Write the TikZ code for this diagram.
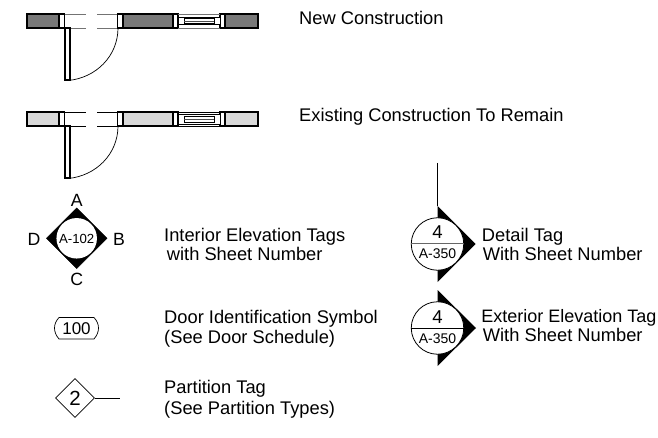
\documentclass[tikz,border=0pt]{standalone}
\usepackage{fontspec}
\usetikzlibrary{shapes.geometric}
\setmainfont{Liberation Sans}
\definecolor{newwall}{gray}{0.47}
\definecolor{oldwall}{gray}{0.85}
\tikzset{
  wallseg/.style={draw=black,line width=1.5pt},
  jamb/.style={draw=black,line width=1.2pt,fill=white},
  fineline/.style={draw=black,line width=0.7pt},
  caption/.style={anchor=base west,inner sep=0pt,font=\fontsize{18.3}{20}\selectfont},
  tagtext/.style={inner sep=0pt,font=\fontsize{14}{16}\selectfont},
  bigtext/.style={inner sep=0pt,font=\fontsize{18.6}{20}\selectfont},
  lettertext/.style={inner sep=0pt,font=\fontsize{17.7}{19}\selectfont}
}
% #1 yshift, #2 wall fill, #3 thin-line colour, #4/#5 window box top/bottom, #6/#7 glazing top/bottom
\newcommand{\doorplan}[7]{%
  \begin{scope}[yshift=#1]
    \draw[fineline,draw=#3] (65,14) -- (86,14) (97,14) -- (117,14) (65,28) -- (86,28) (97,28) -- (117,28);
    \draw[wallseg,fill=#2] (27,14) rectangle (59,28);
    \draw[wallseg,fill=#2] (123,14) rectangle (173,28);
    \draw[wallseg,fill=#2] (225,14) rectangle (258,28);
    \draw[jamb] (59,14) rectangle (64.5,28);
    \draw[jamb] (117.5,14) rectangle (123,28);
    \draw[jamb] (173,14) rectangle (178,28);
    \draw[jamb] (220,14) rectangle (225,28);
    \draw[fineline,draw=#3] (178,14) -- (220,14) (178,28) -- (220,28);
    \draw[fineline,line width=0.9pt,fill=white] (178,#4) rectangle (220,#5);
    \draw[fineline,line width=0.6pt,fill=white] (184,#6) rectangle (214,#7);
    \draw[fineline,line width=0.5pt,draw=black!70] (184,21) -- (214,21);
    \draw[jamb] (65,28) rectangle (70,80);
    \draw[fineline] (118,28) .. controls (118,56) and (96,78) .. (68,80.5);
  \end{scope}}
\begin{document}
\begin{tikzpicture}[x=1pt,y=-1pt]
\useasboundingbox (0,0) rectangle (658,438);
\doorplan{0pt}{newwall}{black!55}{17}{24}{18.5}{23.5}
\doorplan{-98pt}{oldwall}{black}{16}{26}{18}{24}
\node[caption] (lnew) at (299,25) {New Construction};
\node[caption] (lold) at (299,121.7) {Existing Construction To Remain};
% interior elevation tag
\draw[fill=black,draw=black,line width=0.6pt] (76.7,208) -- (107,238.3) -- (76.7,268.5) -- (46.5,238.3) -- cycle;
\node[circle,fill=white,minimum size=40.5pt,inner sep=0pt] (elev) at (76.7,238.3) {};
\node[inner sep=0pt,font=\fontsize{13.2}{15}\selectfont] (sheet) at (76.7,238.5) {A-102};
\node[lettertext] (ta) at (76.7,200) {A};
\node[lettertext] (tb) at (119,239) {B};
\node[lettertext] (tc) at (76.7,279) {C};
\node[lettertext] (td) at (34,239) {D};
\node[caption] (l1) at (164,241) {Interior Elevation Tags};
\node[caption] (l2) at (166.7,260) {with Sheet Number};
% door id
\draw[draw=black,line width=0.7pt] (59,317.5) -- (94,317.5) .. controls (100,324) and (100,332) .. (94,339) -- (59,339) .. controls (53,332) and (53,324) .. (59,317.5) -- cycle;
\node[inner sep=0pt,font=\fontsize{17}{19}\selectfont] (doorid) at (76.5,328.5) {100};
\node[caption] (l3) at (164,323.3) {Door Identification Symbol};
\node[caption] (l4) at (164,343.3) {(See Door Schedule)};
% partition
\node[draw=black,line width=0.7pt,diamond,aspect=1,minimum size=39pt,inner sep=0pt] (part) at (75,398) {};
\node[inner sep=0pt,font=\fontsize{20.5}{22}\selectfont] (ptwo) at (75,398) {2};
\coordinate (pend) at (120,398);
\draw[line width=0.7pt] (part.east) -- (pend);
\node[caption] (l5) at (164,393.3) {Partition Tag};
\node[caption] (l6) at (164,414) {(See Partition Types)};
% detail tag
\coordinate (dtop) at (437.5,163);
\coordinate (dapex) at (437.5,206);
\fill (dapex) -- (475.5,244) -- (437.5,282) -- cycle;
\node[circle,draw=black,fill=white,line width=0.8pt,minimum size=52.5pt,inner sep=0pt] (detail) at (437.5,244) {};
\draw[line width=0.7pt] (dtop) -- (dapex);
\draw[line width=1.0pt,draw=black!60] (detail.west) -- (detail.east);
\node[bigtext] (d4) at (437.5,231.7) {4};
\node[tagtext] (d350) at (437.5,254) {A-350};
\node[caption] (l7) at (481.7,241) {Detail Tag};
\node[caption] (l8) at (482.7,260) {With Sheet Number};
% exterior tag
\fill (437.5,290) -- (476,328) -- (437.5,366) -- cycle;
\node[circle,draw=black,fill=white,line width=0.8pt,minimum size=52.5pt,inner sep=0pt] (ext) at (437.5,328) {};
\draw[line width=0.7pt] (ext.west) -- (ext.east);
\node[bigtext] (e4) at (437.5,317) {4};
\node[tagtext] (e350) at (437.5,339) {A-350};
\node[caption,font=\fontsize{18}{20}\selectfont] (l9) at (481.2,322.3) {Exterior Elevation Tag};
\node[caption] (l10) at (482.7,341) {With Sheet Number};
\end{tikzpicture}
\end{document}
